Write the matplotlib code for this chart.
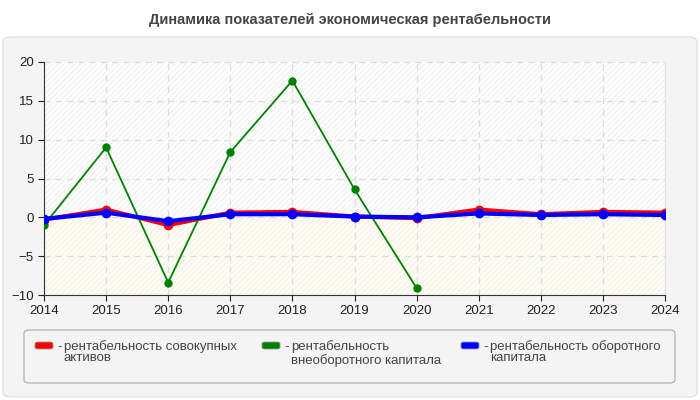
import matplotlib
matplotlib.use('Agg')
import matplotlib.pyplot as plt
from matplotlib.patches import FancyBboxPatch

plt.rcParams['font.family'] = ['Liberation Sans', 'DejaVu Sans']
plt.rcParams['hatch.linewidth'] = 0.6

# data
years = [2014, 2015, 2016, 2017, 2018, 2019, 2020, 2021, 2022, 2023, 2024]
total_assets = [-0.3, 1.0, -1.0, 0.6, 0.7, 0.1, -0.1, 1.0, 0.4, 0.7, 0.6]
fixed_capital = [-1.0, 9.0, -8.4, 8.4, 17.6, 3.6, -9.1]
working_capital = [-0.2, 0.6, -0.5, 0.4, 0.4, 0.1, 0.0, 0.5, 0.3, 0.4, 0.3]
labels = ['рентабельность совокупных\nактивов',
          'рентабельность\nвнеоборотного капитала',
          'рентабельность оборотного\nкапитала']
colors = ['#ff0000', '#008000', '#0000ff']
title = 'Динамика показателей экономическая рентабельности'
y_ticks = [-10, -5, 0, 5, 10, 15, 20]

W, H = 700, 400
fig = plt.figure(figsize=(W / 100, H / 100), dpi=100)
fig.patch.set_facecolor('white')

# outer panel
panel = FancyBboxPatch((3 / W, 3 / H), 694 / W, 360 / H,
                       boxstyle='round,pad=0,rounding_size=0.012',
                       transform=fig.transFigure, facecolor='#f4f4f4',
                       edgecolor='#dddddd', linewidth=0.8, zorder=-2)
fig.patches.append(panel)

fig.text(0.5, 1 - 20 / H, title, ha='center', va='center',
         fontsize=10.5, fontweight='bold', color='#444444')

# plot area
ax = fig.add_axes([44 / W, 1 - 295 / H, 621 / W, 233 / H], zorder=2)
ax.set_facecolor('white')
ax.axhspan(0, 20, facecolor='white', edgecolor='#ebebeb', hatch='//////', linewidth=0, zorder=0)
ax.axhspan(-10, 0, facecolor='#fdfdf6', edgecolor='#f0f0e6', hatch='//////', linewidth=0, zorder=0)

ax.grid(True, color='#dddddd', linestyle=(0, (5, 4)), linewidth=0.9, zorder=1)
ax.set_axisbelow(True)

ax.plot(years, total_assets, color=colors[0], lw=3, marker='o', ms=6, zorder=3)
ax.plot(years[:len(fixed_capital)], fixed_capital, color=colors[1], lw=1.3,
        marker='o', ms=5, zorder=4)
ax.plot(years, working_capital, color=colors[2], lw=3, marker='o', ms=6, zorder=5)

ax.set_xlim(2014, 2024)
ax.set_ylim(-10, 20)
ax.set_xticks(years)
ax.set_yticks(y_ticks)
ax.tick_params(labelsize=9.5, colors='#222222', length=4, width=0.8)
ax.spines['top'].set_visible(False)
ax.spines['right'].set_color('#e4e4e4')
ax.spines['left'].set_color('#333333')
ax.spines['bottom'].set_color('#333333')

# legend box
leg = FancyBboxPatch((24 / W, 1 - 383 / H), 651 / W, 53 / H,
                     boxstyle='round,pad=0,rounding_size=0.008',
                     transform=fig.transFigure, facecolor='#f4f4f4',
                     edgecolor='#aaaaaa', linewidth=0.8, zorder=-1)
fig.patches.append(leg)

leg_x = [35, 262, 461]
line_gap = [11, 14, 11]
for x, lab, c, gap in zip(leg_x, labels, colors, line_gap):
    sw = FancyBboxPatch((x / W, 1 - 349 / H), 18 / W, 7 / H,
                        boxstyle='round,pad=0,rounding_size=0.004',
                        transform=fig.transFigure, facecolor=c,
                        edgecolor='#999999', linewidth=0.6)
    fig.patches.append(sw)
    fig.text((x + 22) / W, 1 - 347 / H, '-', ha='left', va='center',
             fontsize=9.5, color='#444444')
    for i, line in enumerate(lab.split('\n')):
        fig.text((x + 29) / W, 1 - (347 + i * gap) / H, line, ha='left',
                 va='center', fontsize=9.5, color='#444444')

fig.savefig('out.png', dpi=100)
